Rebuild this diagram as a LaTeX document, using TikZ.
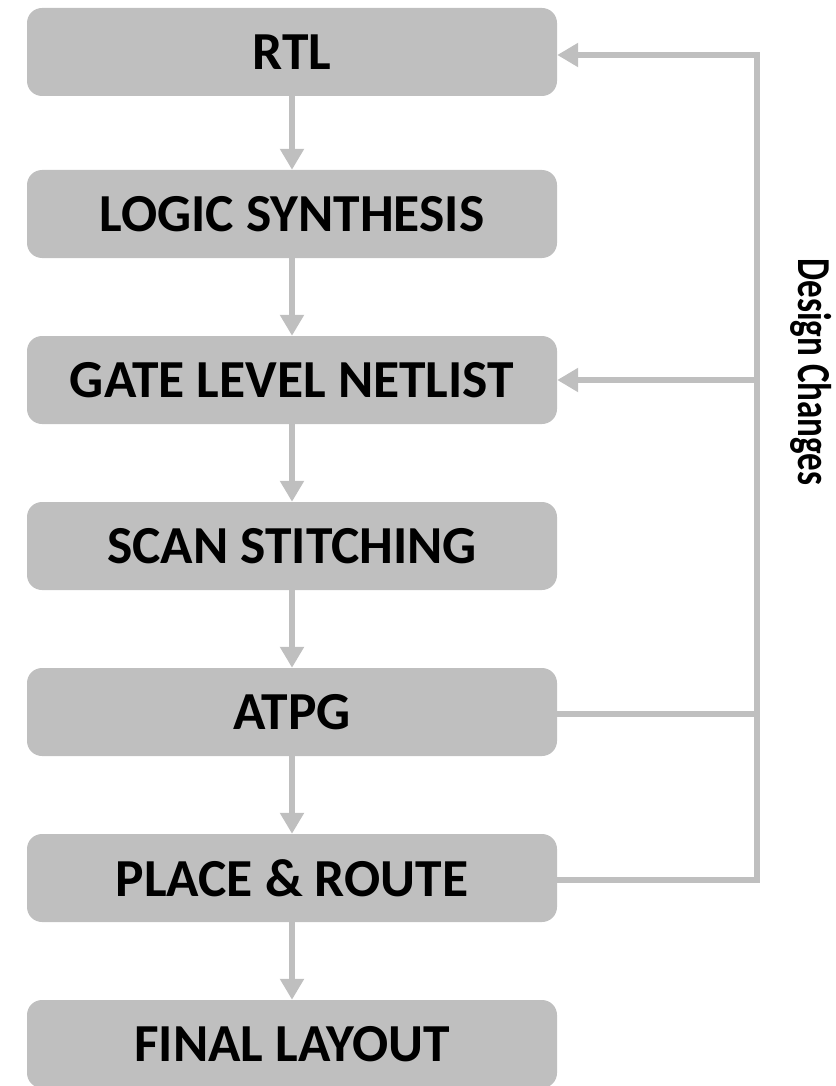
\documentclass[tikz,border=0pt]{standalone}
\usepackage{fontspec}
\setmainfont{Carlito}
\usetikzlibrary{arrows.meta}
\definecolor{flowgray}{HTML}{BFBFBF}
\begin{document}
\begin{tikzpicture}[x=1pt,y=-1pt,
  stage/.style={fill=flowgray, rounded corners=15pt, minimum width=530pt,
    minimum height=88pt, inner sep=0pt, text=black,
    font=\bfseries\fontsize{53.5}{60}\selectfont},
  flow/.style={draw=flowgray, line width=6.5pt,
    -{Triangle[width=23pt,length=21pt]}},
  link/.style={draw=flowgray, line width=6.5pt},
  sidelabel/.style={rotate=-90, text=black,
    font=\bfseries\fontsize{35}{42}\selectfont}]
\useasboundingbox (0,0) rectangle (835,1086);

% design flow stages
\node[stage] (rtl)   at (292,52)   {RTL};
\node[stage] (synth) at (292,214)  {LOGIC SYNTHESIS};
\node[stage] (gate)  at (292,380)  {GATE LEVEL NETLIST};
\node[stage] (scan)  at (292,546)  {SCAN STITCHING};
\node[stage] (atpg)  at (292,712)  {ATPG};
\node[stage] (pnr)   at (292,878)  {PLACE \& ROUTE};
\node[stage] (final) at (292,1044) {FINAL LAYOUT};

% forward flow
\draw[flow] (rtl.south)   -- (synth.north);
\draw[flow] (synth.south) -- (gate.north);
\draw[flow] (gate.south)  -- (scan.north);
\draw[flow] (scan.south)  -- (atpg.north);
\draw[flow] (atpg.south)  -- (pnr.north);
\draw[flow] (pnr.south)   -- (final.north);

% feedback loop for design changes
\coordinate (bus top)  at (757,55);
\coordinate (bus gate) at (757,380);
\coordinate (bus atpg) at (757,714);
\coordinate (bus pnr)  at (757,880);

\draw[link] (atpg.east |- bus atpg) -- (bus atpg);
\draw[flow, line join=miter] (pnr.east |- bus pnr) -- (bus pnr) -- (bus top)
  -- (rtl.east |- bus top);
\draw[flow] (bus gate) -- (gate.east |- bus gate);

\node[sidelabel] (dc) at (811,372) {\scalebox{1}[1.35]{Design Changes}};
\end{tikzpicture}
\end{document}
